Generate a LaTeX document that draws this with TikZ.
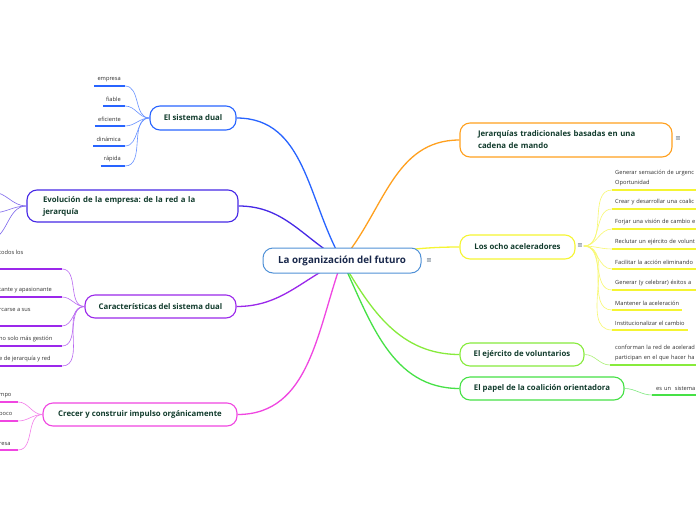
\documentclass[tikz,border=0pt]{standalone}
\usepackage{fontspec}
\setmainfont{Open Sans}
\newfontfamily\symfont{DejaVu Sans}
\usetikzlibrary{backgrounds}
\frenchspacing
\definecolor{dualcol}{RGB}{40,100,255}
\definecolor{evolcol}{RGB}{70,40,230}
\definecolor{caraccol}{RGB}{155,40,235}
\definecolor{crececol}{RGB}{240,70,225}
\definecolor{jerarcol}{RGB}{255,160,30}
\definecolor{ochocol}{RGB}{245,245,50}
\definecolor{ejercol}{RGB}{135,235,60}
\definecolor{papelcol}{RGB}{70,225,70}
\definecolor{centercol}{RGB}{80,145,215}
\definecolor{topictext}{RGB}{18,60,45}
\definecolor{centertext}{RGB}{25,40,75}
\definecolor{leaftext}{RGB}{50,50,50}
\definecolor{menucol}{RGB}{70,90,110}
\tikzset{
  central/.style={rounded corners=10pt,draw=centercol,line width=1pt,fill=white,
    minimum width=158pt,minimum height=25pt,inner sep=0pt,
    font=\fontsize{9.8}{11}\selectfont\bfseries,text=centertext},
  topic/.style={rounded corners=10pt,draw=#1,line width=1.1pt,fill=white,inner sep=0pt,
    font=\fontsize{7.8}{12}\selectfont\bfseries,text=topictext},
  branch/.style={draw=#1,line width=1.3pt},
  twig/.style={draw=#1!70,line width=.6pt},
  ul/.style={draw=#1,line width=1.8pt},
  leaf/.style={font=\fontsize{5.7}{10}\selectfont,text=leaftext,inner xsep=3pt,
    inner ysep=4.3pt,align=left},
  menu/.style={font=\symfont\fontsize{6.5}{7}\selectfont,text=menucol,inner sep=1pt},
}
\begin{document}
\begin{tikzpicture}[x=1pt,y=-1pt]
  \clip (0,0) rectangle (696,520);
  % central topic
  \node[central] (cen) at (342,260.5) {La organización del futuro};
  \node[menu] (cenmenu) at (429,261) {≡};
  % main topics, left
  \node[topic=dualcol,minimum width=86pt,minimum height=24pt] (dual) at (193,118) {El sistema dual};
  \node[topic=evolcol,minimum width=211pt,minimum height=32pt,text width=179pt,align=left]
    (evol) at (132.5,206) {Evolución de la empresa: de la red a la\\jerarquía};
  \node[topic=caraccol,minimum width=151pt,minimum height=23pt] (carac) at (160.5,306.5)
    {Características del sistema dual};
  \node[topic=crececol,minimum width=194pt,minimum height=23pt] (crece) at (140,414.5)
    {Crecer y construir impulso orgánicamente};
  % main topics, right
  \node[topic=jerarcol,minimum width=212pt,minimum height=34pt,text width=176pt,align=left]
    (jerar) at (566,140) {Jerarquías tradicionales basadas en una\\cadena de mando};
  \node[menu] (jerarmenu) at (678,139) {≡};
  \node[topic=ochocol,minimum width=115pt,minimum height=24pt] (ocho) at (517.5,247)
    {Los ocho aceleradores};
  \node[menu] (ochomenu) at (580,246) {≡};
  \node[topic=ejercol,minimum width=124pt,minimum height=23pt] (ejer) at (522,354.5)
    {El ejército de voluntarios};
  \node[topic=papelcol,minimum width=164pt,minimum height=23pt] (papel) at (542,388.5)
    {El papel de la coalición orientadora};

  \begin{scope}[on background layer]
    \fill[white] (0,0) rectangle (696,520);
    \draw[branch=dualcol] (cen.center) to[out=120,in=0] (dual.east);
    \draw[branch=evolcol] (cen.center) to[out=150,in=0] (evol.east);
    \draw[branch=caraccol] (cen.center) to[out=-155,in=0] (carac.east);
    \draw[branch=crececol] (cen.center) to[out=-110,in=0] (crece.east);
    \draw[branch=jerarcol] (cen.center) to[out=50,in=180] (jerar.west);
    \draw[branch=ochocol] (cen.center) to[out=10,in=180] (ocho.west);
    \draw[branch=ejercol] (cen.center) to[out=-60,in=180] (ejer.west);
    \draw[branch=papelcol] (cen.center) to[out=-65,in=180] (papel.west);
  \end{scope}

  % El sistema dual
  \foreach \t [count=\i, evaluate=\i as \y using 66+20*\i] in {empresa,fiable,eficiente,dinámica,rápida}{
    \coordinate (sd\i) at (125,\y);
    \node[leaf,anchor=south east] (sdl\i) at ([xshift=-1pt]sd\i) {\t};
    \draw[ul=dualcol] (sdl\i.south west) -- (sd\i);
    \draw[twig=dualcol] (dual.west) to[out=180,in=0] (sd\i);
  }
  % Evolucion: leaves lie past the left edge
  \foreach \x/\y [count=\i] in {-8/192,-8/213,-12/240}{
    \coordinate (ev\i) at (\x,\y);
    \draw[twig=evolcol] (evol.west) to[out=180,in=0] (ev\i);
  }
  % Caracteristicas
  \foreach \y/\t [count=\i] in {269/{todos los\\\mbox{}},297/{tante y apasionante},
      326/{rcarse a sus\\\mbox{}},346/{no solo más gestión},366/{e de jerarquía y red}}{
    \coordinate (ca\i) at (62,\y);
    \node[leaf,anchor=south west] (cal\i) at (-4,\y) {\t};
    \draw[ul=caraccol] (cal\i.south west) -- (ca\i);
    \draw[twig=caraccol] (carac.west) to[out=180,in=0] (ca\i);
  }
  % Crecer
  \foreach \y/\t [count=\i] in {402/mpo,421/poco,450/resa}{
    \coordinate (cr\i) at (18,\y);
    \node[leaf,anchor=south west] (crl\i) at (-4,\y) {\t};
    \draw[ul=crececol] (crl\i.south west) -- (cr\i);
    \draw[twig=crececol] (crece.west) to[out=180,in=0] (cr\i);
  }
  % Los ocho aceleradores
  \foreach \y/\t [count=\i] in {190/{Generar sensación de urgenc\\Oportunidad},
      209/{Crear y desarrollar una coalic},229/{Forjar una visión de cambio e},
      249/{Reclutar un ejército de volunt},269/{Facilitar la acción eliminando},
      290/{Generar (y celebrar) éxitos a}}{
    \coordinate (oc\i) at (612,\y);
    \node[leaf,anchor=south west,text width=100pt] (ocl\i) at (oc\i) {\t};
    \draw[ul=ochocol] (oc\i) -- (ocl\i.south east);
    \draw[twig=ochocol] (ochomenu.east) to[out=0,in=180] (oc\i);
  }
  \foreach \y/\t [count=\i from 7] in {310/{Mantener la aceleración},330/{Institucionalizar el cambio}}{
    \coordinate (oc\i) at (612,\y);
    \node[leaf,anchor=south west] (ocl\i) at (oc\i) {\t};
    \draw[ul=ochocol] (oc\i) -- (ocl\i.south east);
    \draw[twig=ochocol] (ochomenu.east) to[out=0,in=180] (oc\i);
  }
  % El ejercito de voluntarios
  \coordinate (ej1) at (610,365);
  \node[leaf,anchor=south west,text width=100pt] (ejl1) at ([xshift=2pt]ej1)
    {conforman la red de acelerad\\participan en el que hacer ha};
  \draw[ul=ejercol] (ej1) -- (ejl1.south east);
  \draw[twig=ejercol] (ejer.east) to[out=0,in=180] (ej1);
  % El papel de la coalicion
  \coordinate (pa1) at (652,395);
  \node[leaf,anchor=south west,text width=60pt] (pal1) at ([xshift=1pt]pa1) {es un\ \ sistema};
  \draw[ul=papelcol] (pa1) -- (pal1.south east);
  \draw[twig=papelcol] (papel.east) to[out=0,in=180] (pa1);
\end{tikzpicture}
\end{document}
